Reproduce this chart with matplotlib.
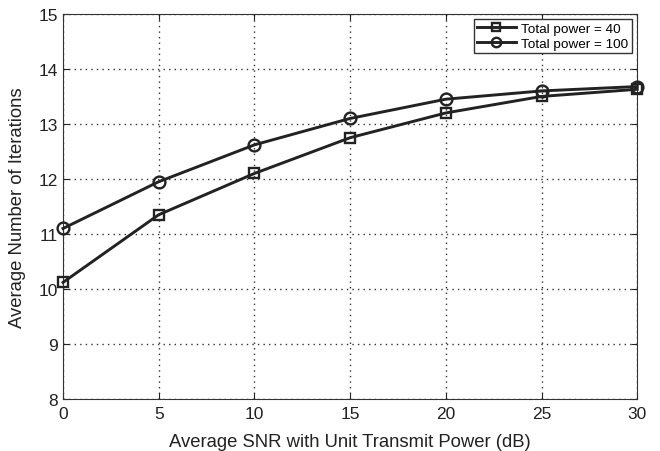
import matplotlib
matplotlib.use("Agg")
import matplotlib.pyplot as plt

plt.rcParams["font.family"] = ["Liberation Sans", "DejaVu Sans"]

snr_db = [0, 5, 10, 15, 20, 25, 30]
iters_p40 = [10.12, 11.35, 12.10, 12.75, 13.20, 13.50, 13.63]
iters_p100 = [11.10, 11.95, 12.62, 13.10, 13.45, 13.60, 13.68]

fig = plt.figure(figsize=(6.6, 4.52), dpi=100)
ax = fig.add_axes([0.0955, 0.115, 0.870, 0.852])

line_color = "#222222"
ax.plot(snr_db, iters_p40, color=line_color, lw=2.1, marker="s", ms=7,
        mfc="none", mew=1.7, label="Total power = 40", clip_on=False, zorder=3)
ax.plot(snr_db, iters_p100, color=line_color, lw=2.1, marker="o", ms=8.5,
        mfc="none", mew=1.7, label="Total power = 100", clip_on=False, zorder=3)

ax.set_xlim(0, 30)
ax.set_ylim(8, 15)
ax.set_xticks(range(0, 31, 5))
ax.set_yticks(range(8, 16))
ax.grid(True, linestyle=(0, (1, 3)), color="#333333", linewidth=1)
ax.tick_params(direction="in", top=True, right=True, labelsize=12.5,
               length=4, colors="#222222")
ax.tick_params(axis="x", pad=5)
for s in ax.spines.values():
    s.set_color("#333333")

ax.set_xlabel("Average SNR with Unit Transmit Power (dB)", fontsize=13.3,
              color="#222222", labelpad=9)
ax.set_ylabel("Average Number of Iterations", fontsize=13.3, color="#222222",
              labelpad=9)

leg = ax.legend(loc="upper right", fontsize=9.7, fancybox=False,
                edgecolor="#333333", framealpha=1, borderaxespad=0.4,
                handlelength=2.9, borderpad=0.25, labelspacing=0.15,
                handletextpad=0.4, markerscale=0.8)
leg.get_frame().set_linewidth(1)

fig.savefig("out.png", dpi=100)
